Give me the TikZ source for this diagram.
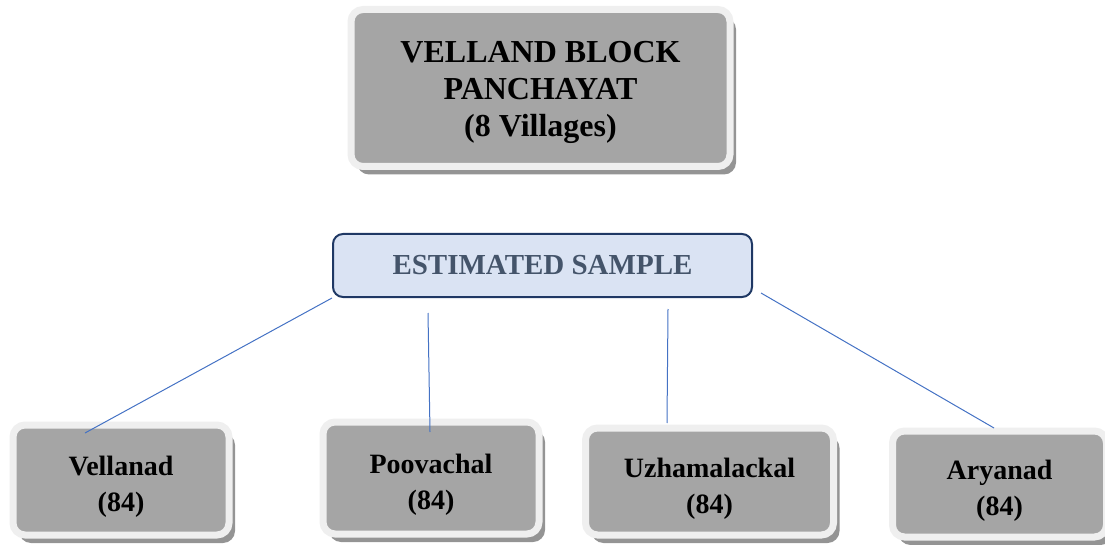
\documentclass[tikz,border=0pt]{standalone}
\usepackage{fontspec}
\setmainfont{Liberation Serif}
\usetikzlibrary{shadows}
\definecolor{boxGrey}{HTML}{A5A5A5}
\definecolor{rimGrey}{HTML}{EFEFEF}
\definecolor{sampleFill}{HTML}{DAE3F3}
\definecolor{sampleLine}{HTML}{1F3864}
\definecolor{sampleText}{HTML}{44546A}
\definecolor{linkColor}{HTML}{4472C4}

\begin{document}
\begin{tikzpicture}[x=1pt,y=-1pt]

            \tikzstyle{greyBox} = [fill=boxGrey, draw=rimGrey, line width=7pt, rounded corners=12pt, inner sep=0pt, align=center,
                                   drop shadow={shadow xshift=6pt, shadow yshift=-8pt, fill=black!42, opacity=1}];
            \tikzstyle{blockBox} = [greyBox, font=\fontsize{32}{37}\selectfont\bfseries, text height=98pt, text depth=0pt];
            \tikzstyle{villageBox} = [greyBox, font=\fontsize{28}{36}\selectfont\bfseries, text height=63pt, text depth=0pt];
            \tikzstyle{sampleBox} = [fill=sampleFill, draw=sampleLine, line width=2pt, rounded corners=10pt, inner sep=0pt,
                                     text=sampleText, font=\fontsize{29}{34}\selectfont\bfseries];
            \tikzstyle{link} = [linkColor, line width=1pt];

            \useasboundingbox (0,0) rectangle (1105,545);

            \node[blockBox, minimum width=379pt, minimum height=157pt] (block) at (540.5,88) {VELLAND BLOCK\\PANCHAYAT\\(8 Villages)};

            \node[sampleBox, minimum width=419pt, minimum height=63pt] (sample) at (542.5,265.5) {ESTIMATED SAMPLE};

            \node[villageBox, minimum width=216pt, minimum height=110pt] (vellanad)     at (121,480)   {Vellanad\\(84)};
            \node[villageBox, minimum width=216pt, minimum height=112pt] (poovachal)    at (431,478)   {Poovachal\\(84)};
            \node[villageBox, minimum width=248pt, minimum height=107pt] (uzhamalackal) at (709.5,481.5) {Uzhamalackal\\(84)};
            \node[villageBox, minimum width=214pt, minimum height=106pt] (aryanad)      at (999.5,484) {Aryanad\\(84)};

            \coordinate (poovachalFrom)    at (428,313);
            \coordinate (uzhamalackalFrom) at (668,309);
            \coordinate (aryanadFrom)      at (761,293);
            \coordinate (vellanadTo)       at (85,433);
            \coordinate (poovachalTo)      at (430,432);
            \coordinate (uzhamalackalTo)   at (667,423);
            \coordinate (aryanadTo)        at (994,428);

            \draw[link] (sample.south west) -- (vellanadTo);
            \draw[link] (poovachalFrom) -- (poovachalTo);
            \draw[link] (uzhamalackalFrom) -- (uzhamalackalTo);
            \draw[link] (aryanadFrom) -- (aryanadTo);
          \end{tikzpicture}
\end{document}
